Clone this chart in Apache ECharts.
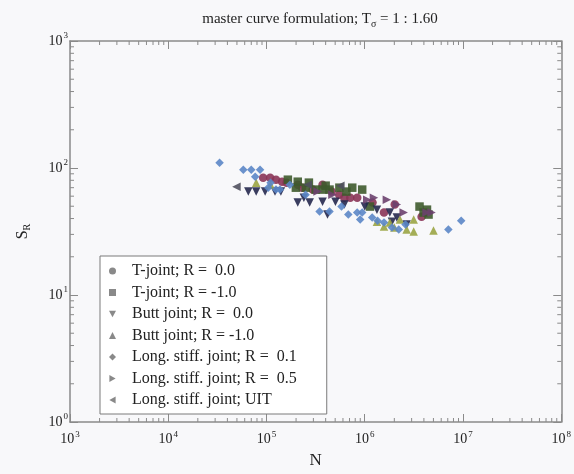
<!DOCTYPE html>
<html><head><meta charset="utf-8">
<script src="https://cdn.jsdelivr.net/npm/echarts@6/dist/echarts.min.js"></script>
<style>html,body{margin:0;padding:0;background:#f8f8fa;}#c{width:574px;height:474px;}</style>
</head><body><div id="c"></div>
<script>
// Data: [N, S_R]
const tJointR0 = [[9.25e4,83.9],[1.09e5,83.9],[1.25e5,80.9],[1.44e5,78.0],[2.08e5,73.9],[2.95e5,67.6],[3.72e5,73.9],[6.20e5,58.4],[7.12e5,58.4],[8.38e5,58.4],[1.57e6,44.6],[2.02e6,51.5],[3.79e6,41.4],[1.6e5,76.7],[2.3e5,70.0],[4.6e5,65.2],[5.5e5,61.7],[1.2e6,53.4]];
const tJointRm1 = [[1.65e5,80.9],[1.99e5,70.0],[2.51e5,70.0],[3.16e5,67.6],[3.72e5,67.6],[4.38e5,67.6],[5.52e5,70.0],[7.46e5,70.0],[9.42e5,67.6],[1.13e6,49.7],[3.61e6,49.7],[4.46e6,43.0],[3.97e6,44.6],[2.08e5,78.0],[2.7e5,76.7],[4.0e5,72.6],[6.5e5,65.2],[4.3e6,47.0]];
const buttR0 = [[6.53e4,65.2],[7.85e4,65.2],[9.68e4,65.2],[1.22e5,65.2],[1.40e5,65.2],[2.08e5,53.4],[2.75e5,53.4],[3.72e5,54.3],[5.03e5,54.3],[4.18e5,43.0],[1.33e6,47.0],[1.80e6,44.6],[2.12e6,40.7],[2.67e6,35.9],[1.89e6,37.8],[2.4e5,58.4],[6.2e5,51.5],[1.0e6,49.7]];
const buttRm1 = [[7.85e4,76.7],[1.33e6,37.8],[1.57e6,34.6],[1.80e6,37.2],[2.28e6,39.3],[2.67e6,32.8],[3.15e6,39.3],[3.15e6,31.6],[5.01e6,32.2],[1.1e5,73.9],[2.0e6,34.0]];
const longR01 = [[3.33e4,110],[5.81e4,97.0],[7.0e4,97.0],[8.6e4,97.0],[7.67e4,85.5],[1.04e5,70.0],[1.25e5,67.6],[1.37e5,67.6],[1.73e5,73.9],[3.47e5,45.4],[4.38e5,45.4],[8.38e5,44.6],[9.42e5,44.6],[1.19e6,40.7],[8.99e5,39.3],[1.57e6,37.2],[2.22e6,32.8],[1.89e6,34.0],[9.59e6,38.5],[7.10e6,32.8],[1.1e5,76.7],[2.5e5,61.7],[5.8e5,49.7],[6.8e5,43.0],[1.35e6,38.5],[2.6e6,35.9]];
const longR05 = [[3.31e5,65.2],[4.69e5,61.7],[1.06e6,56.3],[1.24e6,58.4],[1.68e6,56.3],[2.12e6,51.5],[2.49e6,44.6],[4.78e6,44.6],[4.26e6,44.6]];
const longUIT = [[4.94e4,71.3],[5.65e5,72.6],[2.63e5,73.9]];

const seriesNames = ['T-joint; R =  0.0','T-joint; R = -1.0','Butt joint; R =  0.0','Butt joint; R = -1.0','Long. stiff. joint; R =  0.1','Long. stiff. joint; R =  0.5','Long. stiff. joint; UIT'];
const seriesData = [tJointR0, tJointRm1, buttR0, buttRm1, longR01, longR05, longUIT];
const seriesColors = ['#8a3456','#3e5a2c','#25284e','#9aa444','#5b86c6','#6b416e','#50505e'];
const INV = 'path://M0,0 L10,0 L5,9 Z', RIGHT = 'path://M0,0 L9,5 L0,10 Z', LEFT = 'path://M9,0 L0,5 L9,10 Z';
const seriesSymbols = ['circle','rect',INV,'triangle','diamond',RIGHT,LEFT];

const xTicks = [1e3,1e4,1e5,1e6,1e7,1e8];
const yTicks = [1,10,100,1000];

const xMinor = [], yMinor = [];
for (let k = 3; k < 8; k++) for (let m = 2; m < 10; m++) xMinor.push(m * Math.pow(10, k));
for (let k = 0; k < 3; k++) for (let m = 2; m < 10; m++) yMinor.push(m * Math.pow(10, k));

const SERIF = 'Liberation Serif';
const axisColor = '#8a8a8a';
const labelFmt = v => '{b|10}{e|' + Math.round(Math.log10(v)) + '}';
const rich = {b:{fontFamily:SERIF,fontSize:14,color:'#222'}, e:{fontFamily:SERIF,fontSize:9,color:'#222',verticalAlign:'top',padding:[0,0,10,1]}};

const chart = echarts.init(document.getElementById('c'));
const scatter = seriesNames.map((n,i) => ({
  name:n, type:'scatter', data:seriesData[i], symbol:seriesSymbols[i], symbolSize:8.5,
  itemStyle:{color:seriesColors[i], opacity:0.9}, xAxisIndex:0, yAxisIndex:0
}));

function tickSeries(vals, horizontal){
  return {
    type:'custom', silent:true, clip:false, xAxisIndex:0, yAxisIndex:0,
    data: vals.map(v => horizontal ? [v, 1] : [1e3, v]),
    renderItem:(params, api) => {
      const v = api.value(horizontal ? 0 : 1);
      const L = 4;
      if (horizontal) {
        const b = api.coord([v, 1]), t = api.coord([v, 1000]);
        return {type:'group', children:[
          {type:'line', shape:{x1:b[0],y1:b[1],x2:b[0],y2:b[1]-L}, style:{stroke:axisColor,lineWidth:1}},
          {type:'line', shape:{x1:t[0],y1:t[1],x2:t[0],y2:t[1]+L}, style:{stroke:axisColor,lineWidth:1}}
        ]};
      } else {
        const l = api.coord([1e3, v]), r = api.coord([1e8, v]);
        return {type:'group', children:[
          {type:'line', shape:{x1:l[0],y1:l[1],x2:l[0]+L,y2:l[1]}, style:{stroke:axisColor,lineWidth:1}},
          {type:'line', shape:{x1:r[0],y1:r[1],x2:r[0]-L,y2:r[1]}, style:{stroke:axisColor,lineWidth:1}}
        ]};
      }
    }
  };
}

const axisBase = {
  type:'log', logBase:10,
  axisLine:{show:true, lineStyle:{color:axisColor, width:1.5}},
  axisTick:{show:true, inside:true, length:8, lineStyle:{color:axisColor}},
  splitLine:{show:false}
};

chart.setOption({
  backgroundColor:'#f8f8fa',
  animation:false,
  title:{
    text:'{t|master curve formulation; T}{s|σ}{t| = 1 : 1.60}',
    left:315, top:5, textAlign:'center',
    textStyle:{fontWeight:'normal', rich:{t:{fontFamily:SERIF,fontSize:15,fontWeight:'normal',color:'#222'}, s:{fontFamily:SERIF,fontSize:10,fontWeight:'normal',color:'#222',verticalAlign:'bottom',padding:[9,0,0,0]}}}
  },
  grid:{left:70, right:8, top:41, bottom:51},
  legend:{
    orient:'vertical', left:100, top:256, width:225,
    padding:[7,30,6,9],
    backgroundColor:'#ffffff', borderColor:'#7a7a7a', borderWidth:1,
    itemWidth:7, itemHeight:7, itemGap:5.5,
    textStyle:{fontFamily:SERIF, fontSize:16, color:'#222', padding:[0,0,0,11], lineHeight:16},
    data: seriesNames.map((n,i) => ({name:n, icon:seriesSymbols[i], itemStyle:{color:'#7c7c7c'}}))
  },
  xAxis:[
    Object.assign({}, axisBase, {min:1e3, max:1e8, position:'bottom',
      name:'N', nameLocation:'middle', nameGap:30,
      nameTextStyle:{fontFamily:SERIF, fontSize:17, color:'#222'},
      axisLabel:{formatter:labelFmt, rich:rich, margin:8}}),
    Object.assign({}, axisBase, {min:1e3, max:1e8, position:'top', axisLabel:{show:false}})
  ],
  yAxis:[
    Object.assign({}, axisBase, {min:1, max:1000, position:'left',
      name:'{m|S}{s|R}', nameLocation:'middle', nameGap:38, nameRotate:90,
      nameTextStyle:{rich:{m:{fontFamily:SERIF,fontSize:16,color:'#222'}, s:{fontFamily:SERIF,fontSize:10,color:'#222',verticalAlign:'bottom',padding:[8,0,0,0]}}},
      axisLabel:{formatter:labelFmt, rich:rich, margin:2}}),
    Object.assign({}, axisBase, {min:1, max:1000, position:'right', axisLabel:{show:false}})
  ],
  series: scatter.concat([tickSeries(xMinor, true), tickSeries(yMinor, false)])
});
</script></body></html>
